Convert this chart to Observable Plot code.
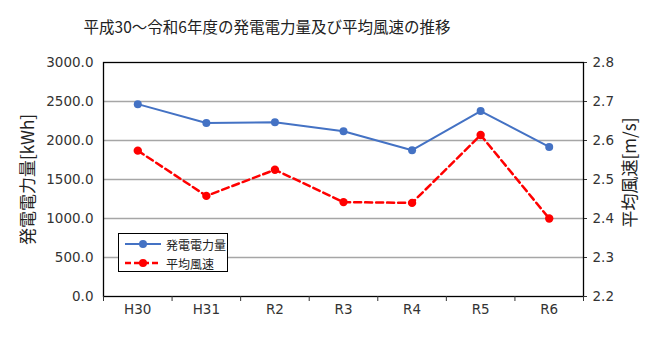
<!DOCTYPE html>
<html><head><meta charset="utf-8">
<script src="https://cdn.jsdelivr.net/npm/d3@7"></script>
<script src="https://cdn.jsdelivr.net/npm/@observablehq/plot@0.6"></script>
<style>
body{margin:0;background:#fff;}
#wrap{position:relative;width:650px;height:352px;font-family:"DejaVu Sans","Noto Sans CJK JP",sans-serif;}
#title{position:absolute;left:0;top:16px;width:534px;text-align:center;font-size:15.5px;line-height:20px;font-family:"Noto Sans CJK JP",sans-serif;color:#222;}
#legend{position:absolute;left:118px;top:233px;width:108px;height:37px;border:1px solid #000;background:#fff;box-sizing:content-box;}
.row{position:absolute;left:6px;height:16px;display:flex;align-items:center;font-family:"Noto Sans CJK JP",sans-serif;font-size:12px;color:#222;}
.row svg{margin-right:3px;}
</style></head>
<body><div id="wrap"><div id="title"></div><div id="legend"></div></div>
<script>
const titleText = "平成30～令和6年度の発電電力量及び平均風速の推移";
const years = ["H30","H31","R2","R3","R4","R5","R6"];
const power = [2466, 2224, 2233, 2119, 1876, 2377, 1918];
const wind = [2.574, 2.458, 2.525, 2.442, 2.440, 2.614, 2.400];
const leftTicks = [0, 500, 1000, 1500, 2000, 2500, 3000];
const rightTicks = [2.2, 2.3, 2.4, 2.5, 2.6, 2.7, 2.8];
const seriesNames = ["発電電力量", "平均風速"];
const leftLabel = "発電電力量[kWh]";
const rightLabel = "平均風速[m/s]";
const colors = ["#4472C4", "#FF0000"];

const toLeft = d3.scaleLinear([2.2, 2.8], [0, 3000]);
const idx = d3.range(years.length);
const rows = idx.map(i => ({i, power: power[i], windL: toLeft(wind[i])}));
const boundaries = d3.range(years.length + 1).map(i => i - 0.5);

const chart = Plot.plot({
  width: 650, height: 352,
  marginLeft: 103, marginRight: 67, marginTop: 62, marginBottom: 56,
  x: {type: "linear", domain: [-0.5, years.length - 0.5]},
  y: {domain: [0, 3000]},
  style: {fontFamily: "DejaVu Sans, Noto Sans CJK JP, sans-serif", fontSize: "13.5px", color: "#333", background: "#fff"},
  marks: [
    Plot.ruleY(leftTicks.slice(1, -1), {stroke: "#a6a6a6", strokeWidth: 1.3}),
    Plot.frame({stroke: "#000", strokeWidth: 1.3}),
    Plot.axisY(leftTicks, {tickSize: 0, tickPadding: 10, tickFormat: d3.format(".1f"), label: null}),
    Plot.axisY(rightTicks.map(toLeft), {anchor: "right", tickSize: 3, tickPadding: 6, tickFormat: d => d3.format(".1f")(toLeft.invert(d)), label: null}),
    Plot.axisX(boundaries, {tickSize: 5, tickFormat: () => "", label: null}),
    Plot.axisX(idx, {tickSize: 0, tickPadding: 8, tickFormat: i => years[i], label: null}),
    Plot.text([leftLabel], {frameAnchor: "left", textAnchor: "middle", rotate: -90, dx: -75, dy: 0, fontSize: 17, fontFamily: "Noto Sans CJK JP", fill: "#222"}),
    Plot.text([rightLabel], {frameAnchor: "right", textAnchor: "middle", rotate: -90, dx: 47, dy: -7, fontSize: 17, fontFamily: "Noto Sans CJK JP", fill: "#222"}),
    Plot.line(rows, {x: "i", y: "power", stroke: colors[0], strokeWidth: 2}),
    Plot.dot(rows, {x: "i", y: "power", fill: colors[0], r: 4}),
    Plot.line(rows, {x: "i", y: "windL", stroke: colors[1], strokeWidth: 2.5, strokeDasharray: "7,4"}),
    Plot.dot(rows, {x: "i", y: "windL", fill: colors[1], r: 4.2})
  ]
});
document.getElementById("wrap").prepend(chart);
document.getElementById("title").textContent = titleText;

const legend = document.getElementById("legend");
seriesNames.forEach((name, k) => {
  const row = document.createElement("div");
  row.className = "row";
  row.style.top = (2 + k * 19) + "px";
  row.innerHTML = `<svg width="38" height="10"><line x1="0" y1="5" x2="36" y2="5" stroke="${colors[k]}" stroke-width="${k ? 2.5 : 2}" ${k ? 'stroke-dasharray="6,3"' : ''}/><circle cx="18" cy="5" r="4" fill="${colors[k]}"/></svg><span></span>`;
  row.querySelector("span").textContent = name;
  legend.appendChild(row);
});
</script>
</body></html>
